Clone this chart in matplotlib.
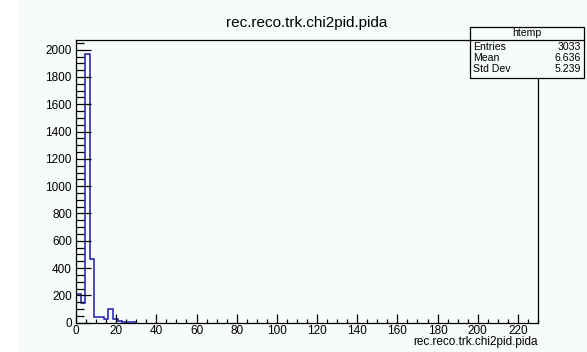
import numpy as np
import matplotlib.pyplot as plt
from matplotlib.patches import Rectangle
from matplotlib.ticker import MultipleLocator

plt.rcParams['font.family'] = ['Liberation Sans', 'DejaVu Sans']

# --- datos del histograma (htemp, 100 bins de 0 a 230) ---
bin_ancho = 2.3
conteos = [212, 145, 1971, 465, 40, 40, 27, 98, 25, 10, 6, 5, 4]
titulo = "rec.reco.trk.chi2pid.pida"
stats_nombres = ["Entries", "Mean", "Std Dev"]
stats_valores = ["3033", "6.636", "5.239"]

W, H = 587, 352
fondo = '#f7fbf9'

fig = plt.figure(figsize=(W / 100, H / 100), dpi=100, facecolor=fondo)
# franja blanca a la izquierda (captura)
fig.patches.append(Rectangle((0, 0), 19 / W, 1, transform=fig.transFigure,
                             facecolor='white', edgecolor='none', zorder=0))

# marco del pad en pixeles
x0, x1, y0, y1 = 76, 538, 40, 322.7
ax = fig.add_axes([x0 / W, 1 - y1 / H, (x1 - x0) / W, (y1 - y0) / H])
ax.set_facecolor(fondo)

bordes = np.arange(len(conteos) + 1) * bin_ancho
ax.stairs(conteos, bordes, color='#1c1caa', linewidth=1.1, baseline=None)

ax.set_xlim(0, 230)
ax.set_ylim(0, 2071)
ax.xaxis.set_major_locator(MultipleLocator(20))
ax.xaxis.set_minor_locator(MultipleLocator(5))
ax.yaxis.set_major_locator(MultipleLocator(200))
ax.yaxis.set_minor_locator(MultipleLocator(50))

ax.tick_params(axis='x', which='major', direction='in', length=6.5, width=0.9, labelsize=8.5, pad=2)
ax.tick_params(axis='x', which='minor', direction='in', length=3.2, width=0.9)
ax.tick_params(axis='y', which='major', direction='in', length=10.8, width=0.9, labelsize=8.5, pad=3)
ax.tick_params(axis='y', which='minor', direction='in', length=5.4, width=0.9)
for s in ax.spines.values():
    s.set_linewidth(0.9)

ax.set_title(titulo, fontsize=11, pad=9)
ax.set_xlabel(titulo, fontsize=8.5, loc='right', labelpad=-1)

# --- caja de estadisticas ---
bx0, bx1, by0, by1 = 470, 584, 27, 78
sep = 40
fig.patches.append(Rectangle((bx0 / W, 1 - by1 / H), (bx1 - bx0) / W, (by1 - by0) / H,
                             transform=fig.transFigure, facecolor=fondo,
                             edgecolor='black', linewidth=0.9, zorder=5))
fig.lines.append(plt.Line2D([bx0 / W, bx1 / W], [1 - sep / H, 1 - sep / H],
                            transform=fig.transFigure, color='black', linewidth=0.9, zorder=6))
fig.text((bx0 + bx1) / 2 / W, 1 - 33.5 / H, "htemp", ha='center', va='center', fontsize=7.6, zorder=7)
for i, (n, v) in enumerate(zip(stats_nombres, stats_valores)):
    yy = 1 - (47 + i * 11) / H
    fig.text((bx0 + 3) / W, yy, n, ha='left', va='center', fontsize=7.6, zorder=7)
    fig.text((bx1 - 3) / W, yy, v, ha='right', va='center', fontsize=7.6, zorder=7)

fig.savefig("out.png", dpi=100, facecolor=fondo)
